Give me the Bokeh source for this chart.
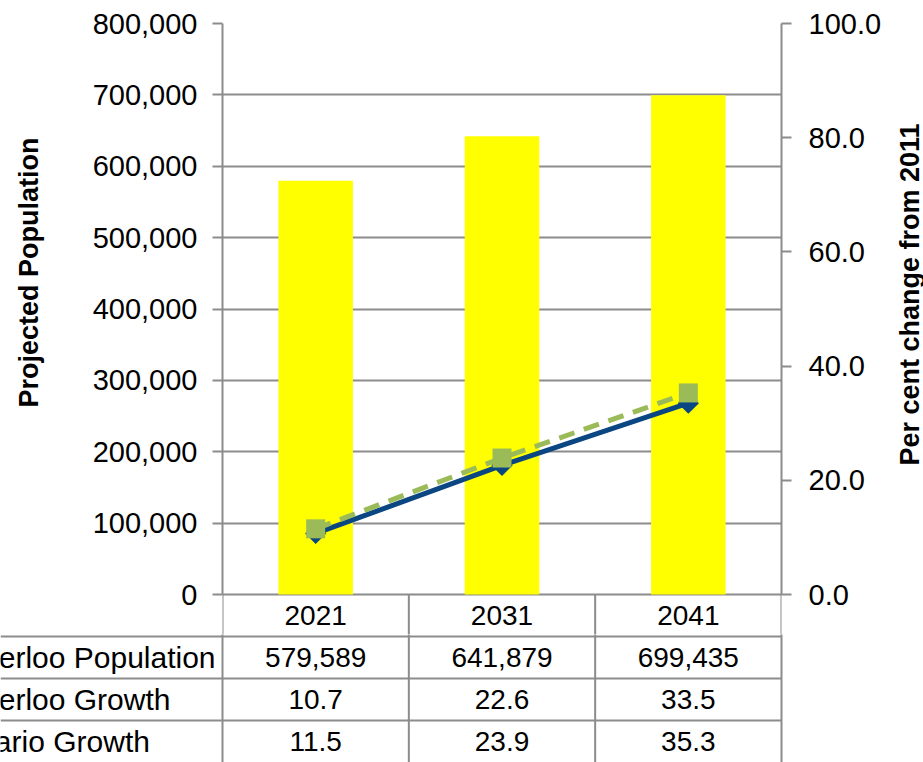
import math
from bokeh.plotting import figure
from bokeh.models import Range1d, LinearAxis, FixedTicker, NumeralTickFormatter
from bokeh.layouts import column, row
from bokeh.embed import file_html
from bokeh.resources import INLINE
from bokeh.core.properties import value

# ---------------- data ----------------
years = ["2021", "2031", "2041"]
waterloo_population = [579589, 641879, 699435]
waterloo_growth = [10.7, 22.6, 33.5]
ontario_growth = [11.5, 23.9, 35.3]
row_labels = ["Waterloo Population", "Waterloo Growth", "Ontario Growth"]
left_ticks = [0, 100000, 200000, 300000, 400000, 500000, 600000, 700000, 800000]
right_ticks = [0, 20, 40, 60, 80, 100]
left_title = "Projected Population"
right_title = "Per cent change from 2011"

# ---------------- layout constants ----------------
W = 923
FRAME_L, FRAME_R, FRAME_T = 222, 781, 23
ZERO_Y, FIG1_H, TOTAL_H = 594, 634, 762
ROW_H = 42
LT_W, RT_W = 50, 30
plot_h = ZERO_Y - FRAME_T
ext = FIG1_H - ZERO_Y
n = len(years)
cw = (FRAME_R - FRAME_L) / n
xc = [i + 0.5 for i in range(n)]

FONT = "Liberation Sans"
GRID = "#8C8C8C"
BLUE = "#0A4682"
GREEN = "#9BBB59"
YELLOW = "#FFFF00"

lmax, rmax = left_ticks[-1], right_ticks[-1]


def bare(width, height, xr, yr):
    f = figure(width=width, height=height, x_range=xr, y_range=yr,
               output_backend="svg", toolbar_location=None,
               x_axis_location=None, y_axis_location=None,
               min_border=0, outline_line_color=None)
    f.frame_align = False
    f.grid.visible = False
    return f


# ---------------- main chart ----------------
p = figure(width=W - LT_W - RT_W, height=FIG1_H, x_range=Range1d(0, n),
           y_range=Range1d(-lmax * ext / plot_h, lmax),
           output_backend="svg", toolbar_location=None,
           x_axis_location=None, y_axis_location="left",
           min_border_left=FRAME_L - LT_W, min_border_right=W - RT_W - FRAME_R,
           min_border_top=FRAME_T, min_border_bottom=0,
           outline_line_color=None)
p.frame_align = False
p.extra_y_ranges = {"pct": Range1d(-rmax * ext / plot_h, rmax)}

p.xgrid.visible = False
p.ygrid.ticker = FixedTicker(ticks=left_ticks)
p.ygrid.grid_line_color = GRID
p.ygrid.grid_line_width = 2


def style_axis(ax, standoff):
    ax.axis_line_color = GRID
    ax.axis_line_width = 2
    ax.major_tick_line_color = GRID
    ax.major_tick_line_width = 2
    ax.major_tick_out = 10
    ax.major_tick_in = 0
    ax.minor_tick_out = 0
    ax.minor_tick_in = 0
    ax.major_label_text_font = FONT
    ax.major_label_text_font_size = "29px"
    ax.major_label_text_color = "black"
    ax.major_label_standoff = standoff


ly = p.yaxis[0]
ly.ticker = FixedTicker(ticks=left_ticks)
ly.formatter = NumeralTickFormatter(format="0,0")
ly.bounds = (0, lmax)
style_axis(ly, 15)

ry = LinearAxis(y_range_name="pct", ticker=FixedTicker(ticks=right_ticks),
                formatter=NumeralTickFormatter(format="0.0"), bounds=(0, rmax))
style_axis(ry, 17)
p.add_layout(ry, "right")

# bars
p.vbar(x=xc, top=waterloo_population, bottom=0, width=0.4,
       fill_color=YELLOW, line_color=None)

# lines
p.line(xc, waterloo_growth, y_range_name="pct", line_color=BLUE, line_width=5)
p.line(xc, ontario_growth, y_range_name="pct", line_color=GREEN, line_width=5,
       line_dash="16 10")
p.scatter(xc, waterloo_growth, y_range_name="pct", marker="square", angle=0.785398,
          size=15, fill_color=BLUE, line_color=None)
p.scatter(xc, ontario_growth, y_range_name="pct", marker="square", size=19,
          fill_color=GREEN, line_color=None)

# data table header row (under the plot area)
ystart = p.y_range.start
p.segment(x0=list(range(n + 1)), y0=[ystart] * (n + 1), x1=list(range(n + 1)),
          y1=[0] * (n + 1), line_color=GRID, line_width=2)
p.text(x=xc, y=[-(0.5 * ROW_H) / plot_h * lmax] * n, text=years,
       text_align="center", text_baseline="middle",
       text_font=value(FONT), text_font_size="28px", text_color="black")

# ---------------- axis titles ----------------
lt = bare(LT_W, FIG1_H, Range1d(0, LT_W), Range1d(0, FIG1_H))
lt.text(x=[28], y=[FIG1_H - 272], text=[left_title], angle=math.pi / 2,
        text_align="center", text_baseline="middle", text_font=value(FONT),
        text_font_size="27px", text_font_style="bold", text_color="black")

rt = bare(RT_W, FIG1_H, Range1d(0, RT_W), Range1d(0, FIG1_H))
rt.text(x=[909 - (W - RT_W)], y=[FIG1_H - 294], text=[right_title], angle=math.pi / 2,
        text_align="center", text_baseline="middle", text_font=value(FONT),
        text_font_size="27px", text_font_style="bold", text_color="black")

# ---------------- data table body ----------------
t = bare(W, TOTAL_H - FIG1_H, Range1d(-FRAME_L / cw, n + (W - FRAME_R) / cw),
         Range1d(-4, -ext / ROW_H))

xs0 = t.x_range.start
t.segment(x0=list(range(n + 1)), y0=[-4] * (n + 1), x1=list(range(n + 1)),
          y1=[0] * (n + 1), line_color=GRID, line_width=2)
t.segment(x0=[xs0] * 3, y0=[-1, -2, -3], x1=[n] * 3, y1=[-1, -2, -3],
          line_color=GRID, line_width=2)

rows = [
    [f"{v:,}" for v in waterloo_population],
    [f"{v:.1f}" for v in waterloo_growth],
    [f"{v:.1f}" for v in ontario_growth],
]
for r, vals in enumerate(rows):
    yy = -(r + 1.5)
    t.text(x=xc, y=[yy] * n, text=vals, text_align="center", text_baseline="middle",
           text_font=value(FONT), text_font_size="28px", text_color="black")

t.text(x=[(-54 - FRAME_L) / cw] * 3, y=[-1.5, -2.5, -3.5], text=row_labels,
       text_align="left", text_baseline="middle", text_font=value(FONT),
       text_font_size="30px", text_color="black")

layout = column(row(lt, p, rt, spacing=0), t, spacing=0)
open("out.html", "w").write(file_html(layout, INLINE))
